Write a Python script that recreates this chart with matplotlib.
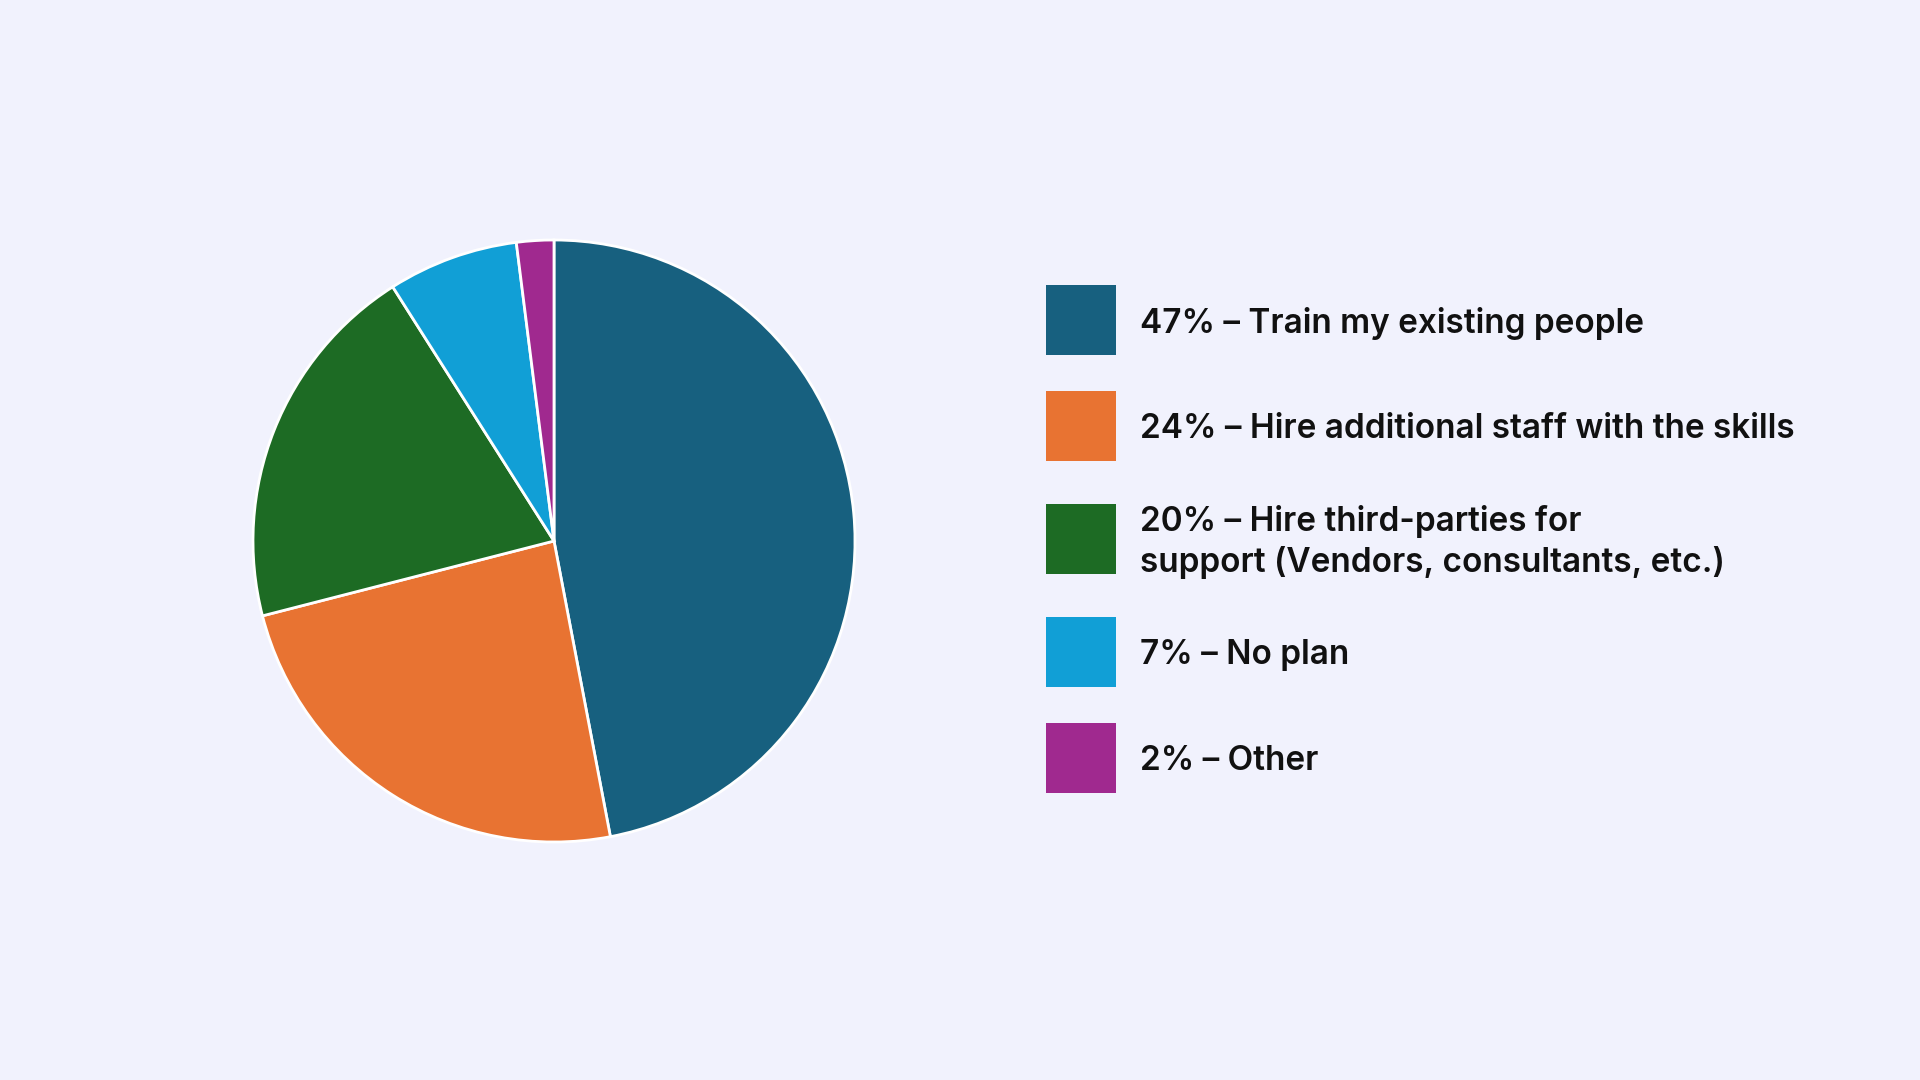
import matplotlib
matplotlib.use('Agg')
import matplotlib.pyplot as plt
from matplotlib.patches import Rectangle

# === Data ===
shares = [47, 24, 20, 7, 2]
labels = [
    "47% – Train my existing people",
    "24% – Hire additional staff with the skills",
    "20% – Hire third-parties for\nsupport (Vendors, consultants, etc.)",
    "7% – No plan",
    "2% – Other",
]
colors = ['#17607F', '#E87332', '#1D6B24', '#119FD6', '#A0298F']
bg = '#F1F2FD'

plt.rcParams['font.family'] = ['Inter', 'DejaVu Sans']

W, H = 1920, 1080
fig = plt.figure(figsize=(W / 100, H / 100), dpi=100, facecolor=bg)

# pie: centre (554, 541) px, radius 301 px
cx, cy, r = 554, 541, 301
ax = fig.add_axes([(cx - r) / W, (H - cy - r) / H, 2 * r / W, 2 * r / H])
ax.pie(shares, colors=colors, startangle=90, counterclock=False,
       wedgeprops=dict(edgecolor='white', linewidth=2, clip_on=False))
ax.set_xlim(-1.0, 1.0)
ax.set_ylim(-1.0, 1.0)
ax.set_aspect('equal')
ax.axis('off')

# legend drawn by hand
sq_x, sq_w = 1046, 70
text_x = 1140
centres = [320, 426, 539, 652, 758]
for lab, col, yc in zip(labels, colors, centres):
    fig.patches.append(Rectangle((sq_x / W, (H - yc - sq_w / 2) / H), sq_w / W, sq_w / H,
                                 transform=fig.transFigure, facecolor=col, edgecolor='none'))
    fig.text(text_x / W, (H - yc - 3) / H, lab, ha='left', va='center', fontsize=24,
             fontweight='semibold', color='#111111', linespacing=1.33)

fig.savefig('out.png', dpi=100, facecolor=bg)
